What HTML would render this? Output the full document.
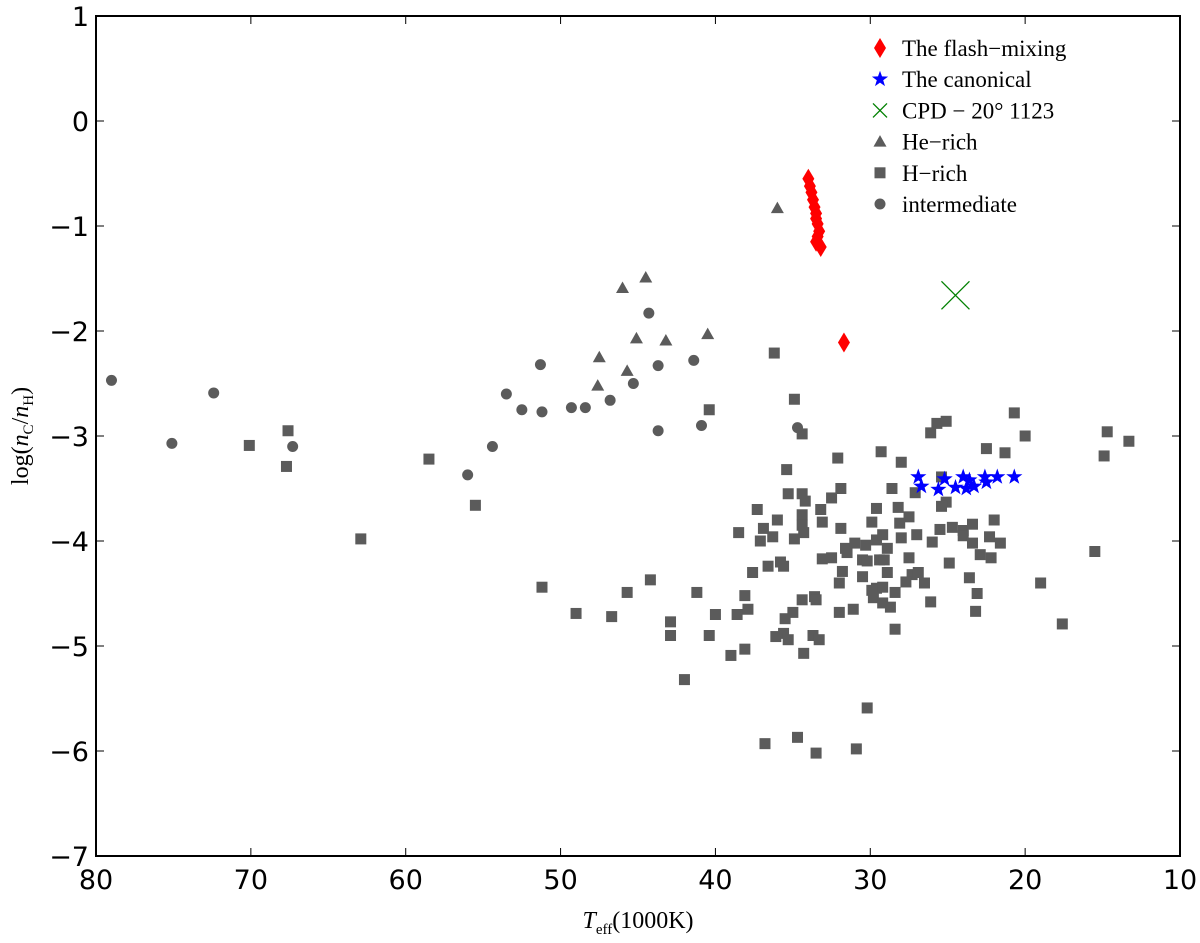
<!DOCTYPE html>
<html><head><meta charset="utf-8"><style>
body{margin:0;background:#fff;}
svg text{font-family:"DejaVu Sans","Liberation Sans",sans-serif;}
.lg{font-family:"Liberation Serif",serif;font-size:23px;}
.tt{font-family:"Liberation Serif",serif;font-size:24px;}
</style></head><body>
<svg id="chart" width="1200" height="938" xmlns="http://www.w3.org/2000/svg"></svg>
<script>
const xTicks=[80,70,60,50,40,30,20,10];
const yTicks=[1,0,-1,-2,-3,-4,-5,-6,-7];
const flashT=[34.0,33.9,33.8,33.7,33.6,33.5,33.5,33.4,33.3,33.4,33.5,33.2,31.7];
const flashC=[-0.55,-0.62,-0.68,-0.75,-0.82,-0.88,-0.93,-0.98,-1.05,-1.10,-1.15,-1.20,-2.11];
const canonT=[26.9,26.7,25.2,25.6,24.5,24.0,23.8,23.6,23.3,22.6,22.5,21.8,20.7];
const canonC=[-3.39,-3.48,-3.41,-3.51,-3.49,-3.39,-3.50,-3.42,-3.48,-3.39,-3.44,-3.39,-3.39];
const cpdT=[24.5];
const cpdC=[-1.66];
const heT=[46.0,44.5,45.1,43.2,40.5,47.5,45.7,47.6,36.0];
const heC=[-1.59,-1.49,-2.07,-2.09,-2.03,-2.25,-2.38,-2.52,-0.83];
const hT=[26.1,25.7,25.1,20.7,20.0,22.5,21.3,29.3,32.1,28.0,35.4,28.6,25.4,27.1,35.3,34.4,34.2,31.9,32.5,33.2,37.3,36.0,34.4,34.4,34.3,34.9,33.1,31.9,29.6,28.2,29.9,27.5,28.1,25.1,25.4,25.5,24.7,24.0,23.4,22.0,26.0,24.0,23.4,22.3,21.6,38.5,36.9,37.1,36.3,31.6,31.0,30.3,29.6,29.2,28.9,28.0,27.0,31.5,33.1,32.5,30.5,30.2,29.4,29.1,27.5,22.9,22.2,24.9,37.6,36.6,35.8,35.6,31.8,30.5,28.9,27.3,26.9,27.7,26.5,32.0,29.6,29.2,29.9,28.4,23.6,19.0,23.1,23.2,26.1,29.8,29.2,28.7,28.4,31.1,32.0,38.1,33.6,33.5,34.4,35.0,35.5,40.0,38.6,37.9,40.4,36.1,35.6,35.3,33.7,33.3,38.1,39.0,34.3,14.7,13.3,14.9,15.5,17.6,36.8,34.7,33.5,30.9,30.2,70.1,67.6,67.7,62.9,58.5,55.5,51.2,49.0,46.7,45.7,44.2,41.2,42.9,42.9,42.0,40.4,34.9,34.4,36.2];
const hC=[-2.97,-2.88,-2.86,-2.78,-3.00,-3.12,-3.16,-3.15,-3.21,-3.25,-3.32,-3.50,-3.39,-3.54,-3.55,-3.55,-3.62,-3.50,-3.59,-3.70,-3.70,-3.80,-3.75,-3.85,-3.92,-3.98,-3.82,-3.88,-3.69,-3.68,-3.82,-3.77,-3.83,-3.63,-3.67,-3.89,-3.87,-3.90,-3.84,-3.80,-4.01,-3.95,-4.02,-3.96,-4.02,-3.92,-3.88,-4.00,-3.96,-4.07,-4.02,-4.04,-3.99,-3.94,-4.07,-3.97,-3.94,-4.11,-4.17,-4.16,-4.18,-4.19,-4.18,-4.18,-4.16,-4.13,-4.16,-4.21,-4.30,-4.24,-4.20,-4.24,-4.29,-4.34,-4.30,-4.32,-4.30,-4.39,-4.40,-4.40,-4.45,-4.44,-4.47,-4.49,-4.35,-4.40,-4.50,-4.67,-4.58,-4.54,-4.59,-4.63,-4.84,-4.65,-4.68,-4.52,-4.53,-4.56,-4.56,-4.68,-4.74,-4.70,-4.70,-4.65,-4.90,-4.91,-4.88,-4.94,-4.90,-4.94,-5.03,-5.09,-5.07,-2.96,-3.05,-3.19,-4.10,-4.79,-5.93,-5.87,-6.02,-5.98,-5.59,-3.09,-2.95,-3.29,-3.98,-3.22,-3.66,-4.44,-4.69,-4.72,-4.49,-4.37,-4.49,-4.77,-4.90,-5.32,-2.75,-2.65,-2.98,-2.21];
const intT=[79.0,75.1,72.4,67.3,56.0,54.4,53.5,52.5,51.2,51.3,49.3,48.4,46.8,45.3,43.7,44.3,41.4,43.7,40.9,34.7];
const intC=[-2.47,-3.07,-2.59,-3.10,-3.37,-3.10,-2.60,-2.75,-2.77,-2.32,-2.73,-2.73,-2.66,-2.50,-2.33,-1.83,-2.28,-2.95,-2.90,-2.92];

const L=96,R=1180,T=16,B=856;
const sx=v=>L+(80-v)/70*(R-L);
const sy=v=>T+(1-v)/8*(B-T);
const NS="http://www.w3.org/2000/svg";
const svg=document.getElementById('chart');
function mk(tag,attrs,parent){const e=document.createElementNS(NS,tag);for(const k in attrs)e.setAttribute(k,attrs[k]);(parent||svg).appendChild(e);return e;}
const GRAY="#5b5b5b";
function square(x,y,g){return mk('rect',{x:x-5.5,y:y-5.5,width:11,height:11,fill:GRAY},g);}
function circle(x,y,g){return mk('circle',{cx:x,cy:y,r:5.5,fill:GRAY},g);}
function tri(x,y,g){return mk('polygon',{points:`${x},${y-6.5} ${x+6.5},${y+5} ${x-6.5},${y+5}`,fill:GRAY},g);}
function diamond(x,y,g){return mk('polygon',{points:`${x},${y-10} ${x+6},${y} ${x},${y+10} ${x-6},${y}`,fill:'#ff0000'},g);}
function star(x,y,g){let p=[];for(let i=0;i<10;i++){const r=i%2?3.4:8.5;const a=-Math.PI/2+i*Math.PI/5;p.push((x+r*Math.cos(a)).toFixed(1)+','+(y+r*Math.sin(a)).toFixed(1));}return mk('polygon',{points:p.join(' '),fill:'#0000ff'},g);}
function cross(x,y,s,g){const gg=mk('g',{stroke:'#008000','stroke-width':1.3},g);mk('line',{x1:x-s,y1:y-s,x2:x+s,y2:y+s},gg);mk('line',{x1:x-s,y1:y+s,x2:x+s,y2:y-s},gg);return gg;}

function series(name,Ts,Cs,fn){const g=mk('g',{});
 for(let i=0;i<Ts.length;i++){const e=fn(sx(Ts[i]),sy(Cs[i]),g);}}
series('h-rich-series',hT,hC,square);
series('intermediate-series',intT,intC,circle);
series('he-rich-series',heT,heC,tri);
series('flash-mixing-series',flashT,flashC,diamond);
series('canonical-series',canonT,canonC,star);
series('cpd-series',cpdT,cpdC,(x,y,g)=>cross(x,y,14,g));

const frame=mk('rect',{x:L,y:T,width:R-L,height:B-T,fill:'none',stroke:'#000','stroke-width':2});


xTicks.forEach(v=>{const x=sx(v);
 mk('line',{x1:x,y1:B,x2:x,y2:B-8,stroke:'#000','stroke-width':1});
 mk('line',{x1:x,y1:T,x2:x,y2:T+8,stroke:'#000','stroke-width':1});
 const t=mk('text',{x:x,y:B+33,'text-anchor':'middle','font-size':27});t.textContent=v;
 
 });
yTicks.forEach(v=>{const y=sy(v);
 mk('line',{x1:L,y1:y,x2:L+8,y2:y,stroke:'#000','stroke-width':1});
 mk('line',{x1:R,y1:y,x2:R-8,y2:y,stroke:'#000','stroke-width':1});
 const t=mk('text',{x:L-7,y:y+10,'text-anchor':'end','font-size':27});t.textContent=(v<0?'\u2212'+(-v):v);
 
 });

const legendLabels=['The flash\u2212mixing','The canonical','CPD \u2212 20\u00b0 1123','He\u2212rich','H\u2212rich','intermediate'];
const legendFns=[diamond,star,(x,y,g)=>cross(x,y,7,g),tri,square,circle];
const lg=mk('g',{});


legendLabels.forEach((s,i)=>{const y=48+i*31.2;
 const m=legendFns[i](880,y,lg);
 
 
 const t=mk('text',{x:902,y:y+8,class:'lg'},lg);t.textContent=s;
 
 });
</script>
<svg style="position:absolute;left:0;top:0" width="1200" height="938" xmlns="http://www.w3.org/2000/svg">
<text class="tt" x="638" y="928" text-anchor="middle"><tspan font-style="italic">T</tspan><tspan font-size="15" dy="6">eff</tspan><tspan dy="-6">(1000K)</tspan></text>
<text class="tt" transform="translate(28,436) rotate(-90)" text-anchor="middle">log(<tspan font-style="italic">n</tspan><tspan font-size="15" dy="5">C</tspan><tspan dy="-5">/</tspan><tspan font-style="italic">n</tspan><tspan font-size="15" dy="5">H</tspan><tspan dy="-5">)</tspan></text>
</svg>
</body></html>
